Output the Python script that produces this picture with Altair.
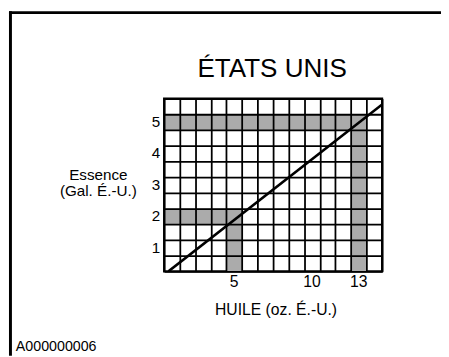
import altair as alt
import pandas as pd

# --- data ---
oil_ticks = [5, 10, 13]            # x tick labels (oz)
gas_ticks = [1, 2, 3, 4, 5]        # y tick labels (gal)
read_gal = [2, 5]                  # highlighted readings: gallons
read_oz = [5, 13]                  # highlighted readings: ounces
line_oz = [0.78, 14.5]             # mixing line endpoints (oz)
line_gal = [0.25, 5.56]            # mixing line endpoints (gal)

X_DOM = [0.5, 14.5]
Y_DOM = [0.25, 5.75]
W, H = 222, 176
FONT = "Liberation Sans"

xgrid = [0.5 + i for i in range(15)]
ygrid = [0.25 + 0.5 * i for i in range(12)]

xaxis = alt.Axis(values=xgrid, labels=False, ticks=False, domain=False, title=None,
                 grid=True, gridColor="black", gridWidth=1.8, gridOpacity=1, zindex=1)
yaxis = alt.Axis(values=ygrid, labels=False, ticks=False, domain=False, title=None,
                 grid=True, gridColor="black", gridWidth=1.8, gridOpacity=1, zindex=1)
xs = alt.Scale(domain=X_DOM, nice=False, zero=False)
ys = alt.Scale(domain=Y_DOM, nice=False, zero=False)

hband = pd.DataFrame({"x1": [X_DOM[0]] * len(read_gal),
                      "x2": [o + 0.5 for o in read_oz],
                      "y1": [g - 0.25 for g in read_gal],
                      "y2": [g + 0.25 for g in read_gal]})
vband = pd.DataFrame({"x1": [o - 0.5 for o in read_oz],
                      "x2": [o + 0.5 for o in read_oz],
                      "y1": [Y_DOM[0]] * len(read_oz),
                      "y2": [g + 0.25 for g in read_gal]})
bands = pd.concat([hband, vband], ignore_index=True)

shade = alt.Chart(bands).mark_rect(color="#ababab").encode(
    x=alt.X("x1:Q", scale=xs, axis=xaxis), x2="x2:Q",
    y=alt.Y("y1:Q", scale=ys, axis=yaxis), y2="y2:Q")

line = alt.Chart(pd.DataFrame({"oz": line_oz, "gal": line_gal})).mark_line(
    color="black", strokeWidth=2.6, clip=True).encode(
    x=alt.X("oz:Q", scale=xs, axis=xaxis),
    y=alt.Y("gal:Q", scale=ys, axis=yaxis))

xlab = alt.Chart(pd.DataFrame({"v": oil_ticks})).mark_text(
    font=FONT, fontSize=16, baseline="middle", color="black").encode(
    x=alt.X("v:Q", scale=xs, axis=xaxis), y=alt.value(H + 11), text="v:Q")

ylab = alt.Chart(pd.DataFrame({"v": gas_ticks})).mark_text(
    font=FONT, fontSize=15.5, baseline="middle", align="right", color="black").encode(
    y=alt.Y("v:Q", scale=ys, axis=yaxis), x=alt.value(-4), text="v:Q")

one = pd.DataFrame({"a": [0]})
title = alt.Chart(one).mark_text(
    text="ÉTATS UNIS", font=FONT, fontSize=26.5,
    baseline="alphabetic", align="center", color="black").encode(
    x=alt.value(110), y=alt.value(-22))
ytitle = alt.Chart(one).mark_text(
    text=["Essence", "(Gal. É.-U.)"], font=FONT, fontSize=15.5, lineHeight=16.5,
    baseline="middle", align="center", color="black").encode(
    x=alt.value(-67), y=alt.value(78))
xtitle = alt.Chart(one).mark_text(
    text="HUILE (oz. É.-U.)", font=FONT, fontSize=16,
    baseline="middle", align="center", color="black").encode(
    x=alt.value(114), y=alt.value(215))
code = alt.Chart(one).mark_text(
    text="A000000006", font=FONT, fontSize=14.5,
    baseline="middle", align="left", color="black").encode(
    x=alt.value(-151), y=alt.value(253))
top_rule = alt.Chart(one).mark_rule(color="black", strokeWidth=3).encode(
    x=alt.value(-158), x2=alt.value(283), y=alt.value(-87.5))
left_rule = alt.Chart(one).mark_rule(color="black", strokeWidth=3).encode(
    x=alt.value(-156.5), y=alt.value(-89), y2=alt.value(262))

chart = alt.layer(shade, line, xlab, ylab, title, ytitle, xtitle, code,
                  top_rule, left_rule).properties(
    width=W, height=H,
    autosize=alt.AutoSizeParams(type="none"),
    padding={"left": 159, "top": 89, "right": 60, "bottom": 84},
).configure_view(stroke="black", strokeWidth=2.2)

chart.save("out.html", embed_options={"renderer": "svg", "actions": False})
